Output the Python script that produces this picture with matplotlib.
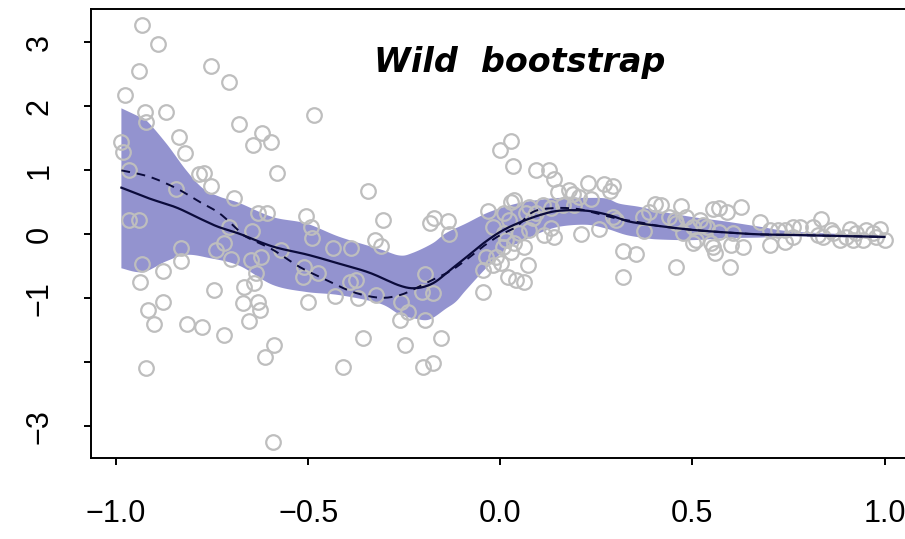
import numpy as np
import matplotlib
matplotlib.use("Agg")
import matplotlib.pyplot as plt

# observed (x, y) pairs
x_obs = [-0.932, -0.891, -0.941, -0.976, -0.753, -0.706, -0.925, -0.921, -0.871, -0.681,
         -0.835, -0.820, -0.986, -0.982, -0.967, -0.783, -0.770, -0.753, -0.843, -0.694,
         -0.967, -0.941, -0.706, -0.832, -0.831, -0.741, -0.718, -0.700, -0.932, -0.878,
         -0.938, -0.744, -0.878, -0.918, -0.900, -0.816, -0.775, -0.718, -0.921, -0.644,
         -0.619, -0.597, -0.580, -0.631, -0.606, -0.647, -0.570, -0.648, -0.622, -0.635,
         -0.640, -0.666, -0.670, -0.631, -0.625, -0.655, -0.590, -0.611, -0.592,
         -0.485, -0.344, -0.505, -0.492, -0.489, -0.436, -0.388, -0.306, -0.325, -0.310,
         -0.512, -0.475, -0.514, -0.392, -0.375, -0.371, -0.431, -0.501, -0.323, -0.358,
         -0.410, -0.184, -0.172, -0.136, -0.133, -0.197, -0.204, -0.176, -0.258, -0.239,
         -0.262, -0.195, -0.154, -0.249, -0.202, -0.176,
         -0.001, 0.028, 0.033, -0.032, -0.018, 0.028, 0.015, 0.037, 0.028, 0.007,
         -0.037, -0.019, -0.045, -0.011, 0.020, 0.042, -0.045, 0.011, 0.024, 0.011,
         0.050, 0.063, 0.002, 0.072, 0.063, 0.037,
         0.094, 0.128, 0.139, 0.150, 0.180, 0.189, 0.228, 0.269, 0.293, 0.286,
         0.076, 0.111, 0.133, 0.163, 0.193, 0.206, 0.235, 0.068, 0.085, 0.094,
         0.076, 0.115, 0.141, 0.133, 0.211, 0.258, 0.293, 0.302, 0.319, 0.352,
         0.319, 0.371, 0.388, 0.404, 0.440, 0.471, 0.458, 0.484, 0.519, 0.553,
         0.375, 0.475, 0.510, 0.553, 0.458, 0.419, 0.454, 0.501, 0.527, 0.570,
         0.589, 0.627, 0.675, 0.701, 0.722, 0.740, 0.763, 0.501, 0.549, 0.558,
         0.601, 0.631, 0.570, 0.605, 0.701, 0.740, 0.597, 0.537, 0.779, 0.813,
         0.835, 0.861, 0.826, 0.839, 0.865, 0.883, 0.909, 0.926, 0.944, 0.953,
         0.970, 0.987, 1.000, 0.900, 0.918, 0.978, 0.761]
y_obs = [3.27, 2.98, 2.55, 2.18, 2.63, 2.38, 1.92, 1.76, 1.91, 1.72,
         1.52, 1.27, 1.44, 1.29, 1.00, 0.95, 0.96, 0.76, 0.71, 0.57,
         0.23, 0.23, 0.11, -0.22, -0.41, -0.25, -0.14, -0.39, -0.46, -0.58,
         -0.74, -0.87, -1.05, -1.18, -1.40, -1.40, -1.45, -1.57, -2.09, 1.39,
         1.58, 1.44, 0.96, 0.33, 0.34, 0.05, -0.24, -0.40, -0.35, -0.61,
         -0.76, -0.82, -1.08, -1.05, -1.18, -1.35, -1.73, -1.91, -3.24,
         1.86, 0.68, 0.29, 0.12, -0.06, -0.21, -0.21, 0.22, -0.09, -0.18,
         -0.51, -0.61, -0.67, -0.74, -0.71, -1.00, -0.97, -1.05, -0.95, -1.62,
         -2.07, 0.18, 0.26, 0.21, 0.00, -0.62, -0.90, -0.92, -1.06, -1.22,
         -1.34, -1.34, -1.62, -1.73, -2.07, -2.01,
         1.32, 1.46, 1.07, 0.37, 0.12, 0.51, -0.09, -0.14, -0.27, -0.19,
         -0.35, -0.48, -0.56, -0.35, -0.66, -0.71, -0.90, 0.33, 0.22, 0.02,
         0.02, -0.19, -0.45, -0.48, -0.74, 0.53,
         1.00, 1.00, 0.87, 0.66, 0.69, 0.63, 0.81, 0.78, 0.75, 0.68,
         0.43, 0.46, 0.41, 0.46, 0.46, 0.59, 0.56, 0.33, 0.25, 0.33,
         0.07, -0.01, -0.04, 0.10, 0.00, 0.08, 0.27, 0.22, -0.26, -0.30,
         -0.67, 0.27, 0.35, 0.48, 0.27, 0.44, 0.17, 0.27, 0.22, 0.39,
         0.05, 0.02, -0.09, -0.19, -0.51, 0.46, 0.22, 0.11, 0.15, 0.41,
         0.35, 0.43, 0.20, 0.07, 0.07, 0.07, 0.11, -0.14, -0.14, -0.29,
         -0.17, -0.19, 0.04, 0.02, -0.17, -0.12, -0.51, 0.11, 0.12, 0.12,
         0.24, 0.07, -0.01, -0.04, 0.02, -0.09, 0.08, 0.02, -0.09, 0.07,
         0.02, 0.08, -0.09, -0.04, -0.09, -0.04, -0.04]

# local fit (solid) and true curve (dashed)
fit_x = [-0.986, -0.913, -0.843, -0.783, -0.735, -0.679, -0.592, -0.50, -0.418, -0.34,
         -0.262, -0.218, -0.174, -0.131, -0.087, -0.044, 0.000, 0.044, 0.102, 0.154,
         0.224, 0.284, 0.336, 0.414, 0.501, 0.588, 0.675, 0.770, 1.00]
fit_y = [0.73, 0.56, 0.42, 0.25, 0.12, 0.01, -0.19, -0.32, -0.46, -0.60,
         -0.80, -0.84, -0.76, -0.56, -0.35, -0.14, 0.04, 0.17, 0.30, 0.37,
         0.37, 0.30, 0.20, 0.13, 0.07, 0.03, 0.00, -0.01, -0.04]
true_x = [-0.986, -0.913, -0.843, -0.783, -0.731, -0.683, -0.661, -0.592, -0.522, -0.453,
          -0.384, -0.314, -0.262, -0.219, -0.176, -0.132, -0.089, -0.045, 0.000, 0.042,
          0.085, 0.137, 0.198, 0.250, 0.302, 0.362, 0.414, 0.501, 0.588, 0.675,
          0.770, 1.00]
true_y = [1.00, 0.90, 0.72, 0.51, 0.33, 0.07, -0.04, -0.24, -0.51, -0.71,
          -0.90, -0.99, -0.95, -0.84, -0.71, -0.58, -0.40, -0.19, -0.01, 0.12,
          0.35, 0.41, 0.40, 0.33, 0.25, 0.19, 0.13, 0.07, 0.03, 0.00,
          -0.01, -0.04]

# wild bootstrap confidence band
band_up_x = [-0.986, -0.947, -0.921, -0.869, -0.817, -0.774, -0.731, -0.679, -0.592, -0.505,
             -0.418, -0.314, -0.262, -0.228, -0.176, -0.141, -0.089, -0.028, 0.042, 0.102,
             0.154, 0.224, 0.276, 0.310, 0.362, 0.414, 0.501, 0.588, 0.675, 0.770, 1.00]
band_up = [1.97, 1.86, 1.78, 1.42, 1.00, 0.72, 0.59, 0.49, 0.27, 0.17,
           -0.04, -0.23, -0.33, -0.29, -0.14, 0.02, 0.17, 0.35, 0.48, 0.54,
           0.57, 0.57, 0.56, 0.48, 0.43, 0.36, 0.27, 0.20, 0.12, 0.04, -0.02]
band_lo_x = [-0.986, -0.930, -0.869, -0.817, -0.757, -0.679, -0.592, -0.505, -0.418, -0.314,
             -0.262, -0.219, -0.184, -0.141, -0.115, -0.089, -0.037, 0.015, 0.050, 0.102,
             0.154, 0.224, 0.276, 0.328, 0.380, 0.414, 0.501, 0.588, 0.675, 0.770, 1.00]
band_lo = [-0.53, -0.59, -0.42, -0.32, -0.37, -0.49, -0.79, -0.90, -0.95, -1.08,
           -1.25, -1.32, -1.33, -1.16, -1.05, -0.87, -0.53, -0.23, -0.13, 0.02,
           0.12, 0.15, 0.09, -0.01, -0.06, -0.08, -0.09, -0.06, -0.05, -0.03, -0.06]

x_ticks = [-1.0, -0.5, 0.0, 0.5, 1.0]
x_labels = ["\u22121.0", "\u22120.5", "0.0", "0.5", "1.0"]
y_ticks = [-3, -2, -1, 0, 1, 2, 3]
y_labels = ["\u22123", "", "\u22121", "0", "1", "2", "3"]


def smooth(xs, ys, n=16):
    # catmull-rom through the given points
    pts = np.column_stack([xs, ys]).astype(float)
    p = np.vstack([pts[0], pts, pts[-1]])
    t = np.linspace(0, 1, n, endpoint=False)[:, None]
    out = []
    for i in range(1, len(p) - 2):
        p0, p1, p2, p3 = p[i - 1], p[i], p[i + 1], p[i + 2]
        seg = 0.5 * (2 * p1 + (-p0 + p2) * t
                     + (2 * p0 - 5 * p1 + 4 * p2 - p3) * t ** 2
                     + (-p0 + 3 * p1 - 3 * p2 + p3) * t ** 3)
        out.append(seg)
    out.append(pts[-1:])
    c = np.vstack(out)
    return c[:, 0], c[:, 1]


plt.rcParams['font.family'] = ['Liberation Sans', 'DejaVu Sans']

fig = plt.figure(figsize=(9.05, 5.39), dpi=100)
ax = fig.add_axes([0.1006, 0.1497, 0.9103, 0.8345])

ux, uy = smooth(band_up_x, band_up)
lx, ly = smooth(band_lo_x, band_lo)
ax.fill(np.concatenate([ux, lx[::-1]]), np.concatenate([uy, ly[::-1]]),
        color='#9393cf', lw=0, zorder=1)

ax.plot(x_obs, y_obs, 'o', mfc='none', mec='#bebebe', ms=10.5, mew=1.6, zorder=2)

navy = '#0b0b3b'
fx, fy = smooth(fit_x, fit_y)
tx, ty = smooth(true_x, true_y)
ax.plot(fx, fy, color=navy, lw=1.6, zorder=3)
ax.plot(tx, ty, color=navy, lw=1.4, dashes=(4.5, 3.5), zorder=3)

ax.text(0.05, 2.69, "Wild  bootstrap", ha='center', va='center',
        fontsize=24, fontweight='bold', fontstyle='italic', family='DejaVu Sans', zorder=4)

ax.set_xlim(-1.065, 1.079)
ax.set_ylim(-3.50, 3.53)
ax.set_xticks(x_ticks)
ax.set_xticklabels(x_labels)
ax.set_yticks(y_ticks)
ax.set_yticklabels(y_labels, rotation=90, va='center')

ax.tick_params(axis='both', direction='out', length=5, width=1.4, labelsize=22)
ax.tick_params(axis='x', pad=24)
ax.tick_params(axis='y', pad=21)
for s in ax.spines.values():
    s.set_linewidth(1.4)

fig.savefig("out.png", dpi=100)
